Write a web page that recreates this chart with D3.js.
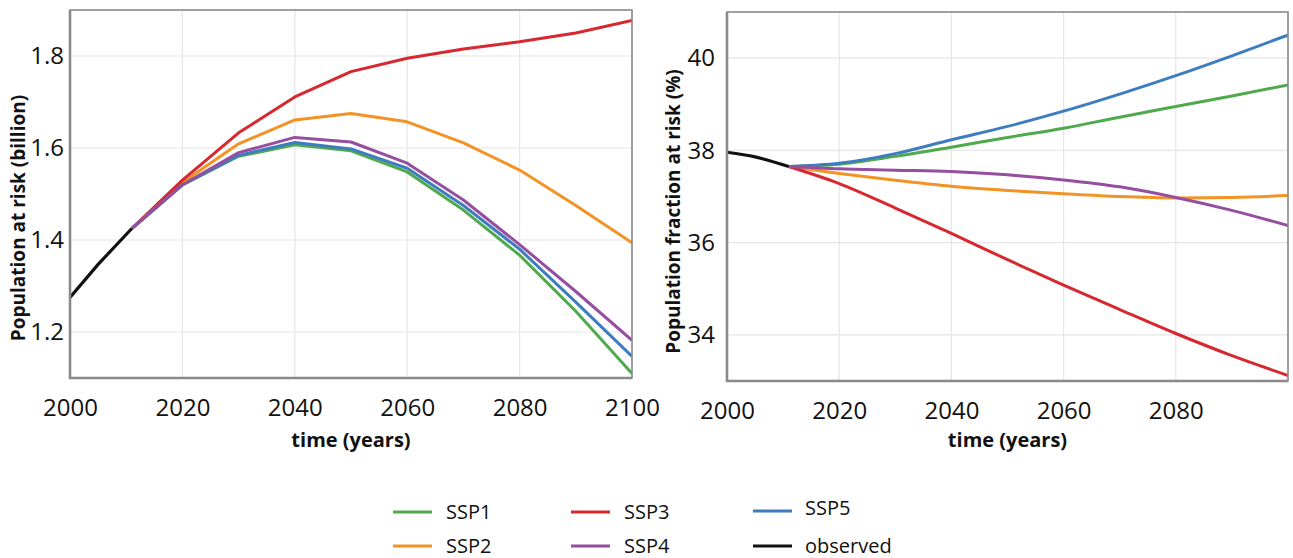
<!DOCTYPE html>
<html><head><meta charset="utf-8">
<script src="https://cdn.jsdelivr.net/npm/d3@7"></script>
<style>body{margin:0;background:#fff;} svg{display:block;font-family:"Open Sans",sans-serif;}</style>
</head><body>
<svg id="c" width="1293" height="558"></svg>
<script>
const seriesNames = ["SSP1","SSP2","SSP3","SSP4","SSP5"];
const seriesColors = ["#4fa94d","#f39325","#d7282f","#954ea0","#3d7dbf"];
const obsColor = "#111";

// Left panel: population at risk (billion)
const yearsL = [2011,2020,2030,2040,2050,2060,2070,2080,2090,2100];
const leftSSP1 = [1.425,1.52,1.582,1.607,1.594,1.548,1.465,1.367,1.245,1.11];
const leftSSP2 = [1.425,1.525,1.609,1.661,1.675,1.657,1.611,1.552,1.475,1.394];
const leftSSP3 = [1.425,1.53,1.633,1.711,1.766,1.795,1.815,1.831,1.85,1.877];
const leftSSP4 = [1.425,1.52,1.59,1.623,1.613,1.567,1.487,1.39,1.288,1.182];
const leftSSP5 = [1.425,1.52,1.584,1.612,1.598,1.556,1.475,1.38,1.265,1.147];
const obsYearsL = [2000,2005,2011];
const obsL = [1.275,1.347,1.425];

// Right panel: population fraction at risk (%)
const yearsR = [2011,2020,2030,2040,2050,2060,2070,2080,2090,2100];
const rightSSP1 = [37.65,37.7,37.87,38.07,38.28,38.48,38.72,38.95,39.18,39.42];
const rightSSP2 = [37.65,37.5,37.35,37.22,37.13,37.06,37.0,36.97,36.98,37.02];
const rightSSP3 = [37.65,37.28,36.75,36.2,35.63,35.08,34.55,34.03,33.55,33.12];
const rightSSP4 = [37.65,37.6,37.57,37.54,37.47,37.36,37.21,36.98,36.7,36.37];
const rightSSP5 = [37.65,37.72,37.93,38.23,38.52,38.85,39.22,39.62,40.05,40.5];
const obsYearsR = [2000,2005,2011];
const obsR = [37.96,37.86,37.65];

const xTicksL = [2000,2020,2040,2060,2080,2100];
const xTicksR = [2000,2020,2040,2060,2080];
const yTicksL = [1.2,1.4,1.6,1.8];
const yTicksR = [34,36,38,40];

const svg = d3.select("#c");

function panel(cfg){
  const g = svg.append("g");
  const x = d3.scaleLinear().domain([2000,2100]).range([cfg.x0,cfg.x1]);
  const y = d3.scaleLinear().domain(cfg.yDom).range([cfg.y1,cfg.y0]);
  // grid
  g.append("g").selectAll("line.vx").data(xTicksL).join("line")
    .attr("x1",d=>x(d)).attr("x2",d=>x(d)).attr("y1",cfg.y0).attr("y2",cfg.y1)
    .attr("stroke","#e6e6e6").attr("stroke-width",1.2);
  g.append("g").selectAll("line.hy").data(cfg.yTicks).join("line")
    .attr("x1",cfg.x0).attr("x2",cfg.x1).attr("y1",d=>y(d)).attr("y2",d=>y(d))
    .attr("stroke","#e6e6e6").attr("stroke-width",1.2);
  // axes (labels only)
  const ax = g.append("g").attr("transform",`translate(0,${cfg.y1})`)
    .call(d3.axisBottom(x).tickValues(cfg.xTicks).tickFormat(d3.format("d")).tickSize(0).tickPadding(21));
  ax.select(".domain").remove();
  ax.selectAll("text").attr("font-size",24).attr("fill","#111").attr("font-family","'Open Sans',sans-serif");
  const ay = g.append("g").attr("transform",`translate(${cfg.x0},0)`)
    .call(d3.axisLeft(y).tickValues(cfg.yTicks).tickFormat(cfg.yFmt).tickSize(0).tickPadding(cfg.yPad));
  ay.select(".domain").remove();
  ay.selectAll("text").attr("font-size",24).attr("fill","#111").attr("font-family","'Open Sans',sans-serif");
  // lines
  const line = d3.line().x(d=>x(d[0])).y(d=>y(d[1])).curve(cfg.curve);
  const clip = "clip"+cfg.id;
  svg.append("clipPath").attr("id",clip).append("rect")
    .attr("x",cfg.x0).attr("y",cfg.y0).attr("width",cfg.x1-cfg.x0).attr("height",cfg.y1-cfg.y0);
  const lg = g.append("g").attr("clip-path",`url(#${clip})`);
  const order = [1,2,0,4,3];
  order.forEach(i=>{
    lg.append("path").datum(cfg.years.map((yr,j)=>[yr,cfg.series[i][j]]))
      .attr("d",line).attr("fill","none").attr("stroke",seriesColors[i])
      .attr("stroke-width",3).attr("stroke-linejoin","round");
  });
  lg.append("path").datum(cfg.obsYears.map((yr,j)=>[yr,cfg.obs[j]]))
    .attr("d",line).attr("fill","none").attr("stroke",obsColor).attr("stroke-width",3.2);
  // frame
  g.append("rect").attr("x",cfg.x0).attr("y",cfg.y0).attr("width",cfg.x1-cfg.x0).attr("height",cfg.y1-cfg.y0)
    .attr("fill","none").attr("stroke","#8a8a8a").attr("stroke-width",1.6);
  g.append("path").attr("d",`M${cfg.x0},${cfg.y0}V${cfg.y1}H${cfg.x1}`)
    .attr("fill","none").attr("stroke","#8a8a8a").attr("stroke-width",2.6);
  // titles
  g.append("text").attr("x",(cfg.x0+cfg.x1)/2).attr("y",447).attr("text-anchor","middle")
    .attr("font-size",20).attr("font-weight","bold").attr("fill","#111").text("time (years)");
  g.append("text").attr("transform",`translate(${cfg.ytX},${(cfg.y0+cfg.y1)/2+cfg.ytDy}) rotate(-90)`)
    .attr("text-anchor","middle").attr("font-size",19).attr("font-weight","bold").attr("fill","#111").text(cfg.yTitle);
}

panel({id:"L",x0:70,x1:632,y0:10,y1:378,yDom:[1.1,1.9],yTicks:yTicksL,xTicks:xTicksL,
  yFmt:d3.format(".1f"),yPad:6,years:yearsL,series:[leftSSP1,leftSSP2,leftSSP3,leftSSP4,leftSSP5],
  obsYears:obsYearsL,obs:obsL,curve:d3.curveLinear,ytX:25,ytDy:24,yTitle:"Population at risk (billion)"});
panel({id:"R",x0:727,x1:1288,y0:12,y1:381,yDom:[33,41],yTicks:yTicksR,xTicks:xTicksR,
  yFmt:d3.format("d"),yPad:12,years:yearsR,series:[rightSSP1,rightSSP2,rightSSP3,rightSSP4,rightSSP5],
  obsYears:obsYearsR,obs:obsR,curve:d3.curveMonotoneX,ytX:680,ytDy:15,yTitle:"Population fraction at risk (%)"});

// legend
const legendItems = [
  {name:"SSP1",color:seriesColors[0],x:393,y:512},
  {name:"SSP2",color:seriesColors[1],x:393,y:546},
  {name:"SSP3",color:seriesColors[2],x:571,y:512},
  {name:"SSP4",color:seriesColors[3],x:571,y:546},
  {name:"SSP5",color:seriesColors[4],x:753,y:511},
  {name:"observed",color:obsColor,x:753,y:546}
];
const lgd = svg.append("g");
legendItems.forEach((d,i)=>{
  lgd.append("line").attr("x1",d.x).attr("x2",d.x+39).attr("y1",d.y).attr("y2",d.y)
    .attr("stroke",d.color).attr("stroke-width",3);
  lgd.append("text").attr("x",d.x+(i>=4?52:53)).attr("y",d.y+(i===4?-3:0)).attr("dy","0.36em")
    .attr("font-size",20).attr("fill","#111").text(d.name);
});
</script>
</body></html>
